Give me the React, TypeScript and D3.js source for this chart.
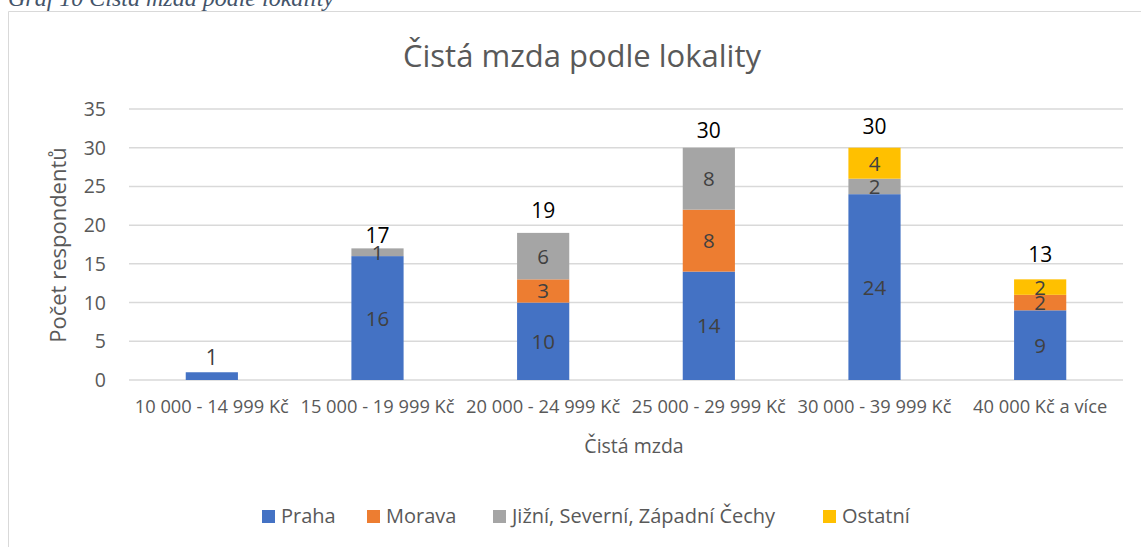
import React from "react";
import * as d3 from "d3";

const categories = [
  "10 000 - 14 999 Kč",
  "15 000 - 19 999 Kč",
  "20 000 - 24 999 Kč",
  "25 000 - 29 999 Kč",
  "30 000 - 39 999 Kč",
  "40 000 Kč a více",
];
const seriesNames = ["Praha", "Morava", "Jižní, Severní, Západní Čechy", "Ostatní"];
const praha = [1, 16, 10, 14, 24, 9];
const morava = [0, 0, 3, 8, 0, 2];
const jizni = [0, 1, 6, 8, 2, 0];
const ostatni = [0, 0, 0, 0, 4, 2];
const yTicks = [0, 5, 10, 15, 20, 25, 30, 35];
const colors = ["#4472C4", "#ED7D31", "#A5A5A5", "#FFC000"];

// layout constants (label placement above each bar, in px)
const totalLabelGap = [7, 5, 15, 10, 14, 17];
const legendSquareX = [262, 367, 493, 823];

const FONT = "'Open Sans', 'Noto Sans', sans-serif";

export default function App() {
  const W = 1141, H = 547;
  const left = 129, right = 1123, top = 109, bottom = 380;
  const x = d3.scaleBand<string>().domain(categories).range([left, right]).paddingInner(0.685).paddingOuter(0.3425);
  const y = d3.scaleLinear().domain([0, 35]).range([bottom, top]);
  const values = [praha, morava, jizni, ostatni];
  const table = categories.map((c, i) => {
    const row: any = { cat: c };
    seriesNames.forEach((s, k) => (row[s] = values[k][i]));
    return row;
  });
  const stacked = d3.stack<any>().keys(seriesNames)(table);
  const totals = categories.map((_, i) => values.reduce((a, v) => a + v[i], 0));

  return (
    <svg width={W} height={H} style={{ position: "absolute", left: 0, top: 0, background: "#fff" }}>
      <text x={8} y={6} fontFamily="'Liberation Serif', serif" fontStyle="italic" fontSize={24} fill="#44546A">
        Graf 10 Čistá mzda podle lokality
      </text>
      <path d={`M8.5,${H} V11.5 H${W}`} fill="none" stroke="#d9d9d9" strokeWidth={1} />
      <text x={582} y={67} textAnchor="middle" fontFamily={FONT} fontSize={31} fill="#595959">
        Čistá mzda podle lokality
      </text>
      {yTicks.map((t) => (
        <g key={t}>
          <line x1={left} x2={right} y1={y(t)} y2={y(t)} stroke="#d9d9d9" strokeWidth={1.5} />
          <text x={106} y={y(t) + 7} textAnchor="end" fontFamily={FONT} fontSize={19.5} fill="#595959">
            {t}
          </text>
        </g>
      ))}
      {stacked.map((layer, k) => (
        <g key={layer.key} fill={colors[k]}>
          {layer.map((d, i) =>
            d[1] - d[0] > 0 ? (
              <rect key={i} x={x(categories[i])} width={x.bandwidth()} y={y(d[1])} height={y(d[0]) - y(d[1])} />
            ) : null
          )}
        </g>
      ))}
      {stacked.map((layer, k) => (
        <g key={layer.key + "l"}>
          {layer.map((d, i) => {
            const v = d[1] - d[0];
            if (v <= 0 || (totals[i] === v && v < 2)) return null;
            return (
              <text key={i} x={x(categories[i])! + x.bandwidth() / 2} y={(y(d[0]) + y(d[1])) / 2 + 7.5}
                textAnchor="middle" fontFamily={FONT} fontSize={20.5} fill="#404040">
                {v}
              </text>
            );
          })}
        </g>
      ))}
      {totals.map((t, i) => (
        <text key={i} x={x(categories[i])! + x.bandwidth() / 2} y={y(t) - totalLabelGap[i]} textAnchor="middle"
          fontFamily={FONT} fontSize={21} fill={t < 2 ? "#404040" : "#000"}>
          {t}
        </text>
      ))}
      {categories.map((c) => (
        <text key={c} x={x(c)! + x.bandwidth() / 2} y={413} textAnchor="middle" fontFamily={FONT} fontSize={18.3} fill="#595959">
          {c}
        </text>
      ))}
      <text x={634} y={453} textAnchor="middle" fontFamily={FONT} fontSize={19.5} fill="#595959">
        Čistá mzda
      </text>
      <text transform={`translate(66,245) rotate(-90)`} textAnchor="middle" fontFamily={FONT} fontSize={22} fill="#595959">
        Počet respondentů
      </text>
      {seriesNames.map((s, k) => (
        <g key={s}>
          <rect x={legendSquareX[k]} y={510} width={13} height={13} fill={colors[k]} />
          <text x={legendSquareX[k] + 19} y={523} fontFamily={FONT} fontSize={20} fill="#595959">
            {s}
          </text>
        </g>
      ))}
    </svg>
  );
}
